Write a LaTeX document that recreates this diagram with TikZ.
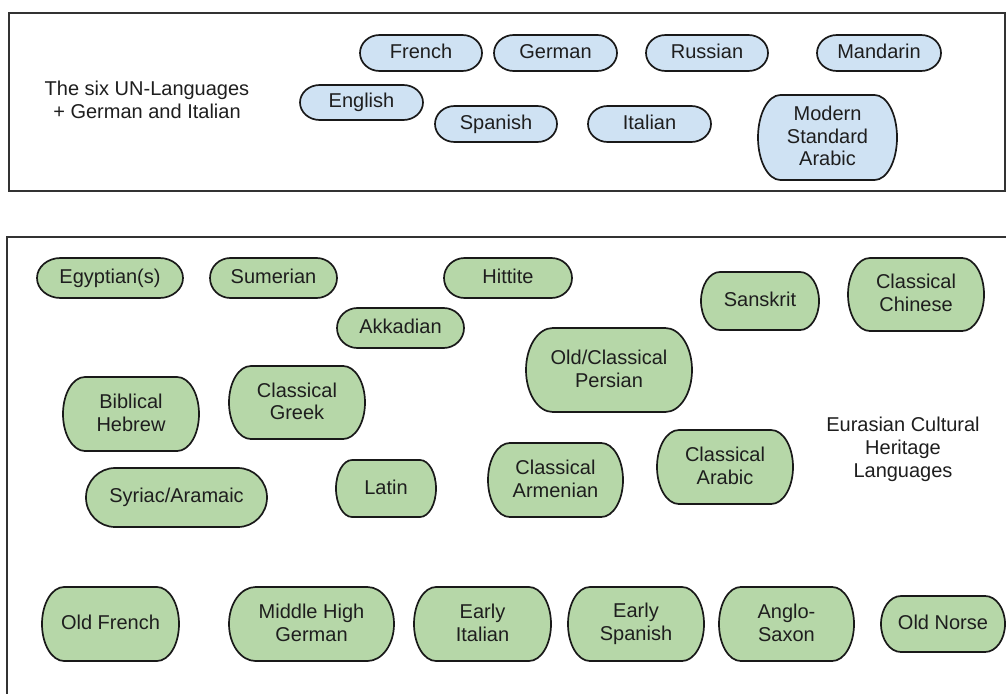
\documentclass[tikz,border=0pt]{standalone}
\usepackage{fontspec}
\setmainfont{Liberation Sans}
\definecolor{unblue}{HTML}{CFE2F3}
\definecolor{eugreen}{HTML}{B6D7A8}
\definecolor{frameline}{HTML}{333333}
\definecolor{txt}{HTML}{1E1E1E}
\newcommand\lstrut{\rule[-3pt]{0pt}{17.5pt}}
\tikzset{
  boxline/.style={line width=1.7pt, draw=black!90},
  lang/.style={inner sep=0pt, align=center, text=txt, font=\fontsize{20}{22.5}\selectfont,
    execute at begin node=\lstrut, execute at end node=\lstrut},
  framebox/.style={line width=2pt, draw=frameline},
  caption/.style={inner sep=0pt, align=center, text=txt, font=\fontsize{20}{23}\selectfont,
    execute at begin node=\lstrut, execute at end node=\lstrut}
}
% name, fill colour, centre x, centre y (image px, downward), width, height, text
\newcommand\lbox[7]{%
  \pgfmathsetmacro\hw{#5/2}%
  \pgfmathsetmacro\hh{#6/2}%
  \pgfmathsetmacro\rx{0.161*#5}%
  \pgfmathsetmacro\cy{-#4}%
  \draw[boxline,fill=#2] ({#3-\hw+\rx},{\cy-\hh}) -- ({#3+\hw-\rx},{\cy-\hh})
    arc[start angle=-90,end angle=90,x radius=\rx pt,y radius=\hh pt]
    -- ({#3-\hw+\rx},{\cy+\hh})
    arc[start angle=90,end angle=270,x radius=\rx pt,y radius=\hh pt] -- cycle;
  \node[lang] (#1) at (#3,\cy) {#7};
}
\begin{document}
\begin{tikzpicture}[x=1pt,y=1pt]
\clip (0,0) rectangle (1006,-693);
\fill[white] (0,0) rectangle (1006,-693);
% frames
\draw[framebox] (9,-13) rectangle (1005,-191);
\draw[framebox] (7,-237) rectangle (1020,-710);
% captions
\node[caption] (untext) at (147,-101) {The six UN-Languages\\+ German and Italian};
\node[caption] (eutext) at (903,-449) {Eurasian Cultural\\Heritage\\Languages};
% UN languages
\lbox{fr}{unblue}{421}{53}{122}{36}{French}
\lbox{de}{unblue}{555.5}{53}{123}{36}{German}
\lbox{ru}{unblue}{707}{53}{122}{36}{Russian}
\lbox{zh}{unblue}{879}{53}{124}{36}{Mandarin}
\lbox{en}{unblue}{361.5}{102.5}{123}{35}{English}
\lbox{es}{unblue}{496}{124}{122}{36}{Spanish}
\lbox{it}{unblue}{649.5}{124}{123}{36}{Italian}
\lbox{ar}{unblue}{827.5}{137.5}{139}{85}{Modern\\Standard\\Arabic}
% heritage languages
\lbox{egy}{eugreen}{110}{278}{146}{40}{Egyptian(s)}
\lbox{sux}{eugreen}{273.5}{278}{127}{40}{Sumerian}
\lbox{hit}{eugreen}{508}{278}{128}{40}{Hittite}
\lbox{akk}{eugreen}{400.5}{328}{127}{40}{Akkadian}
\lbox{san}{eugreen}{760}{301}{118}{58}{Sanskrit}
\lbox{lzh}{eugreen}{916}{294.5}{136}{73}{Classical\\Chinese}
\lbox{hbo}{eugreen}{131}{414}{136}{74}{Biblical\\Hebrew}
\lbox{grc}{eugreen}{297}{402.5}{136}{73}{Classical\\Greek}
\lbox{peo}{eugreen}{609}{370}{166}{84}{Old/Classical\\Persian}
\lbox{syc}{eugreen}{176.5}{497.5}{181}{59}{Syriac/Aramaic}
\lbox{lat}{eugreen}{386}{488.5}{100}{57}{Latin}
\lbox{xcl}{eugreen}{555.5}{480}{135}{74}{Classical\\Armenian}
\lbox{cla}{eugreen}{725}{467}{136}{74}{Classical\\Arabic}
\lbox{fro}{eugreen}{110.5}{624}{137}{74}{Old French}
\lbox{gmh}{eugreen}{311.5}{624}{165}{74}{Middle High\\German}
\lbox{eit}{eugreen}{482.5}{624}{137}{74}{Early\\Italian}
\lbox{esp}{eugreen}{636}{624}{136}{74}{Early\\Spanish}
\lbox{ang}{eugreen}{786.5}{624}{135}{74}{Anglo-\\Saxon}
\lbox{non}{eugreen}{943}{624}{124}{56}{Old Norse}
\end{tikzpicture}
\end{document}
